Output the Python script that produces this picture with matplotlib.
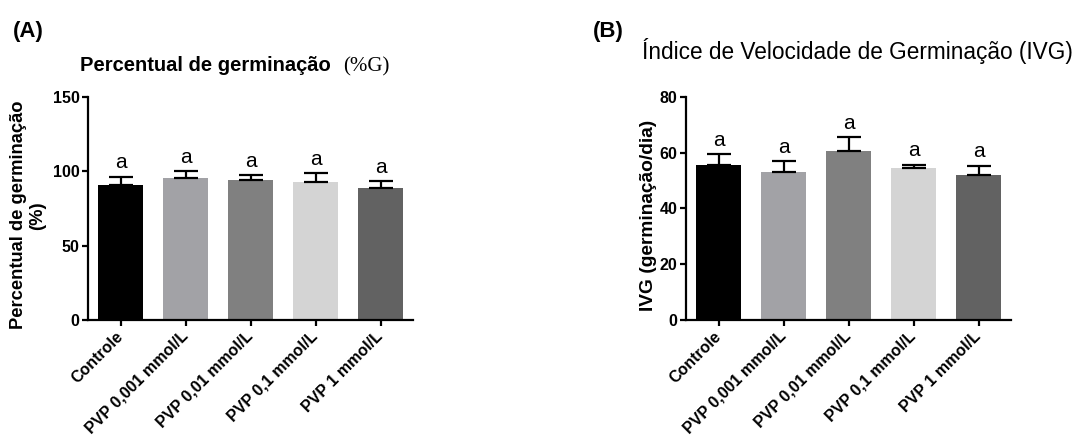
import matplotlib
matplotlib.use('Agg')
import matplotlib.pyplot as plt

plt.rcParams['font.family'] = ['Liberation Sans', 'DejaVu Sans']

# dados
categorias = ['Controle', 'PVP 0,001 mmol/L', 'PVP 0,01 mmol/L', 'PVP 0,1 mmol/L', 'PVP 1 mmol/L']
cores = ['#000000', '#a2a2a6', '#808080', '#d4d4d4', '#626262']
letras = ['a', 'a', 'a', 'a', 'a']

germ_media = [90.5, 95.3, 94.4, 92.6, 88.5]
germ_erro = [6.0, 4.7, 3.1, 6.0, 5.0]

ivg_media = [55.7, 53.2, 60.7, 54.6, 52.1]
ivg_erro = [3.9, 3.9, 5.0, 1.1, 3.3]

W, H = 1080, 440
fig = plt.figure(figsize=(W / 100, H / 100), dpi=100)


def px(x, y):
    return x / W, 1 - y / H


def painel(ax, media, erro, ymax, passo, ylabel, lab_x, lab_fs):
    x = list(range(len(categorias)))
    ax.bar(x, media, width=0.7, color=cores, zorder=2)
    ax.errorbar(x, media, yerr=[[0] * len(erro), erro], fmt='none', ecolor='black',
                elinewidth=1.6, capsize=8.5, capthick=1.6, zorder=3)
    for xi, m, e, l in zip(x, media, erro, letras):
        ax.annotate(l, (xi, m + e), xytext=(0, 6), textcoords='offset points',
                    ha='center', va='baseline', fontsize=15)
    ax.set_xlim(-0.5, 4.5)
    ax.set_ylim(0, ymax)
    ax.set_yticks(range(0, ymax + 1, passo))
    ax.set_xticks(x)
    ax.set_xticklabels(categorias, rotation=45, ha='right', va='center',
                       rotation_mode='anchor', fontsize=11.5, fontweight='bold')
    for t in ax.get_yticklabels():
        t.set_fontweight('bold')
        t.set_fontsize(11.5)
    for s in ['top', 'right']:
        ax.spines[s].set_visible(False)
    for s in ['left', 'bottom']:
        ax.spines[s].set_linewidth(1.6)
    ax.tick_params(axis='both', width=1.6, length=4, direction='out', pad=2)
    ax.tick_params(axis='x', pad=6)
    ax.set_ylabel(ylabel, fontsize=lab_fs, fontweight='bold', linespacing=1.1)
    ax.yaxis.set_label_coords(lab_x, 0.47)


axA = fig.add_axes([88 / W, 1 - 320 / H, 325 / W, 223 / H])
painel(axA, germ_media, germ_erro, 150, 50, 'Percentual de germinação\n(%)', -0.13, 13.2)

axB = fig.add_axes([686 / W, 1 - 320 / H, 325 / W, 223 / H])
painel(axB, ivg_media, ivg_erro, 80, 20, 'IVG (germinação/dia)', -0.088, 13.8)

# rótulos e títulos
fig.text(*px(13, 37), '(A)', fontsize=16, fontweight='bold', va='baseline')
fig.text(*px(593, 37), '(B)', fontsize=16, fontweight='bold', va='baseline')
fig.text(*px(80, 71), 'Percentual de germinação', fontsize=14.5, fontweight='bold', va='baseline')
fig.text(*px(343, 71), '(%G)', fontsize=15, family=['Liberation Serif', 'DejaVu Serif'], va='baseline')
fig.text(*px(642, 59), 'Índice de Velocidade de Germinação (IVG)', fontsize=16.3,
         va='baseline')

plt.savefig('out.png', dpi=100)
plt.close()
